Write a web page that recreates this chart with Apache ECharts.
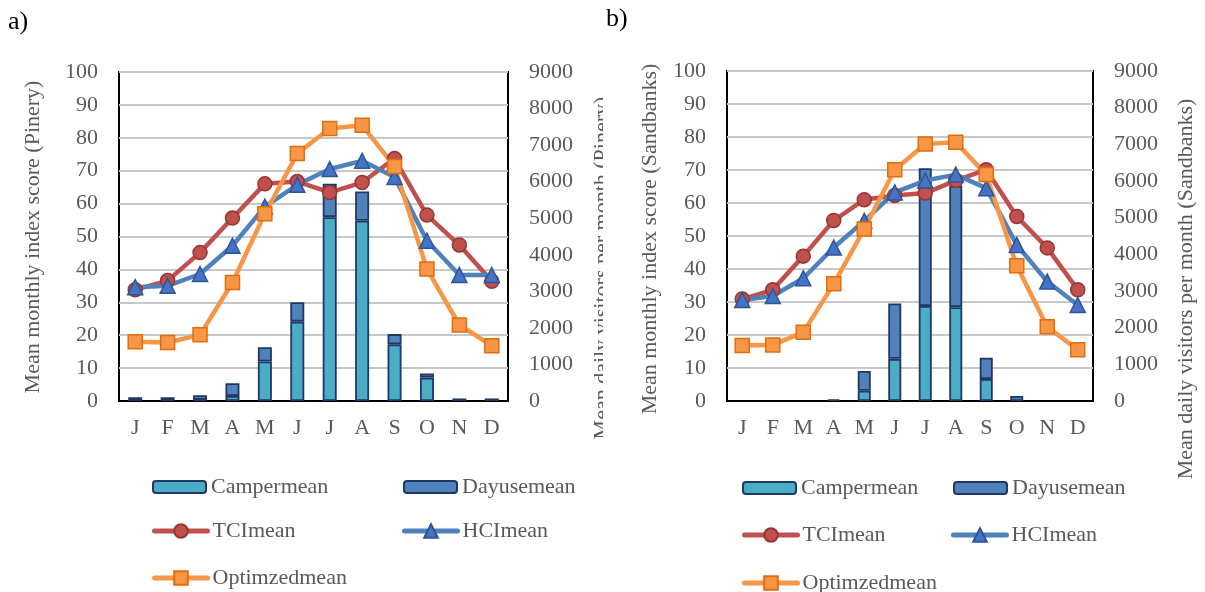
<!DOCTYPE html>
<html>
<head>
<meta charset="utf-8">
<script src="https://cdn.jsdelivr.net/npm/echarts@6/dist/echarts.min.js"></script>
<style>
  body { margin: 0; background: #fff; }
  #wrap { position: relative; width: 1205px; height: 592px; }
  #chart-a { position: absolute; left: 0; top: 0; width: 603px; height: 592px; overflow: hidden; }
  #chart-b { position: absolute; left: 603px; top: 0; width: 602px; height: 592px; overflow: hidden; }
</style>
</head>
<body>
<div id="wrap">
  <div id="chart-a"></div>
  <div id="chart-b"></div>
</div>
<script>
const months = ['J', 'F', 'M', 'A', 'M', 'J', 'J', 'A', 'S', 'O', 'N', 'D'];
const leftTicks = [0, 100, 10];      // min, max, interval
const rightTicks = [0, 9000, 1000];

// Pinery
const camperPinery = [0, 0, 30, 135, 1080, 2170, 5030, 4930, 1550, 640, 0, 0];
const dayusePinery = [100, 100, 130, 350, 390, 530, 910, 800, 280, 115, 70, 70];
const tciPinery = [33.8, 36.6, 45.1, 55.6, 66.0, 66.7, 63.4, 66.4, 73.7, 56.5, 47.4, 36.4];
const hciPinery = [34.6, 35.0, 38.6, 47.2, 59.1, 65.7, 70.5, 73.0, 68.1, 48.7, 38.3, 38.3];
const optPinery = [18.0, 17.8, 20.1, 36.0, 56.9, 75.2, 82.8, 83.8, 71.3, 40.1, 23.1, 16.8];

// Sandbanks
const camperSand = [0, 0, 0, 0, 280, 1150, 2590, 2560, 600, 0, 0, 0];
const dayuseSand = [0, 0, 0, 45, 540, 1510, 3760, 3310, 580, 135, 0, 0];
const tciSand = [30.9, 33.7, 43.9, 54.7, 61.0, 62.3, 63.0, 66.8, 70.1, 55.9, 46.4, 33.7];
const hciSand = [30.6, 31.8, 37.2, 46.5, 54.6, 63.2, 66.8, 68.6, 64.5, 47.3, 36.2, 29.1];
const optSand = [16.8, 17.0, 20.8, 35.5, 52.1, 70.1, 77.9, 78.4, 68.6, 41.0, 22.5, 15.5];

const FONT = '"Liberation Serif", "Times New Roman", serif';
const GREY = '#595959';

function noZero(arr) {
  return arr.map(function (v) { return v === 0 ? '-' : v; });
}

function vText(text, x, y) {
  return {
    type: 'text', x: x, y: y, rotation: Math.PI / 2,
    style: {
      text: text, font: '22px ' + FONT, fill: GREY,
      textAlign: 'center', textVerticalAlign: 'middle',
      align: 'center', verticalAlign: 'middle'
    }
  };
}

function legendAt(name, left, top, h, lineW) {
  return {
    data: [name], left: left, top: top,
    itemWidth: 53, itemHeight: h, itemGap: 0,
    lineStyle: { width: lineW, cap: 'round' },
    textStyle: { fontFamily: FONT, fontSize: 22, color: GREY, lineHeight: 24 }
  };
}

function build(c) {
  return {
    animation: false,
    grid: { left: c.grid[0], right: c.grid[1], top: c.grid[2], bottom: c.grid[3],
            show: true, borderColor: '#000', borderWidth: 2, backgroundColor: 'transparent' },
    graphic: [
      { type: 'text', x: c.tag[1], y: c.tag[2],
        style: { text: c.tag[0], font: '26px ' + FONT, fill: '#000' } },
      vText(c.leftName, c.leftNamePos[0], c.leftNamePos[1]),
      vText(c.rightName, c.rightNamePos[0], c.rightNamePos[1])
    ],
    legend: [
      legendAt('Campermean', c.leg[0][0], c.leg[0][1], 12, 0),
      legendAt('Dayusemean', c.leg[1][0], c.leg[1][1], 12, 0),
      legendAt('TCImean', c.leg[2][0], c.leg[2][1], 17, 5),
      legendAt('HCImean', c.leg[3][0], c.leg[3][1], 17, 5),
      legendAt('Optimzedmean', c.leg[4][0], c.leg[4][1], 17, 5)
    ],
    xAxis: {
      type: 'category', data: months,
      axisLine: { lineStyle: { color: '#000', width: 2 } },
      axisTick: { show: false },
      axisLabel: { fontFamily: FONT, fontSize: 22, color: GREY, margin: 16 }
    },
    yAxis: [
      {
        type: 'value', min: leftTicks[0], max: leftTicks[1], interval: leftTicks[2],
        axisLine: { show: false }, axisTick: { show: false },
        axisLabel: { fontFamily: FONT, fontSize: 22, color: GREY, margin: 21 },
        splitLine: { show: true, lineStyle: { color: '#C8C8C8', width: 2 } }
      },
      {
        type: 'value', min: rightTicks[0], max: rightTicks[1], interval: rightTicks[2],
        axisLine: { show: false }, axisTick: { show: false },
        axisLabel: { fontFamily: FONT, fontSize: 22, color: GREY, margin: 21,
                     formatter: function (v) { return String(v); } },
        splitLine: { show: false }
      }
    ],
    series: [
      {
        name: 'Campermean', type: 'bar', stack: 'v', yAxisIndex: 1,
        barWidth: c.barWidth, data: noZero(c.camper),
        itemStyle: { color: '#4BACC6', borderColor: '#1F3864', borderWidth: 1.8 }
      },
      {
        name: 'Dayusemean', type: 'bar', stack: 'v', yAxisIndex: 1,
        barWidth: c.barWidth, data: noZero(c.dayuse),
        itemStyle: { color: '#4F81BD', borderColor: '#1F3864', borderWidth: 1.8 }
      },
      {
        name: 'TCImean', type: 'line', yAxisIndex: 0, data: c.tci,
        symbol: 'circle', symbolSize: 14,
        lineStyle: { color: '#C0504D', width: 4.5 },
        itemStyle: { color: '#C0504D', borderColor: '#943634', borderWidth: 1.5 }
      },
      {
        name: 'HCImean', type: 'line', yAxisIndex: 0, data: c.hci,
        symbol: 'triangle', symbolSize: 15,
        lineStyle: { color: '#4F81BD', width: 4.5 },
        itemStyle: { color: '#4472C4', borderColor: '#2F5597', borderWidth: 1.5 }
      },
      {
        name: 'Optimzedmean', type: 'line', yAxisIndex: 0, data: c.opt,
        symbol: 'rect', symbolSize: 14,
        lineStyle: { color: '#F79646', width: 4.5 },
        itemStyle: { color: '#F79646', borderColor: '#E46C0A', borderWidth: 1.5 }
      }
    ]
  };
}

const chartA = echarts.init(document.getElementById('chart-a'));
chartA.setOption(build({
  tag: ['a)', 8, 9],
  grid: [119, 95, 72, 191],
  barWidth: 14,
  camper: camperPinery, dayuse: dayusePinery,
  tci: tciPinery, hci: hciPinery, opt: optPinery,
  leftName: 'Mean monthly index score (Pinery)', leftNamePos: [33, 237],
  rightName: 'Mean daily visitors per month (Pinery)', rightNamePos: [602, 268],
  leg: [[147, 470], [398, 470], [147, 514], [397, 514], [147, 561]]
}));

const chartB = echarts.init(document.getElementById('chart-b'));
chartB.setOption(build({
  tag: ['b)', 3, 6],
  grid: [124, 112, 71, 191],
  barWidth: 13,
  camper: camperSand, dayuse: dayuseSand,
  tci: tciSand, hci: hciSand, opt: optSand,
  leftName: 'Mean monthly index score (Sandbanks)', leftNamePos: [47, 239],
  rightName: 'Mean daily visitors per month (Sandbanks)', rightNamePos: [583, 289],
  leg: [[134, 471], [345, 471], [134, 518], [343, 518], [134, 566]]
}));
</script>
</body>
</html>
